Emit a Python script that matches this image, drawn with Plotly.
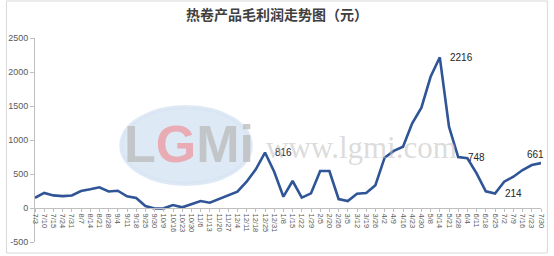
import plotly.graph_objects as go

dates = ["7/3","7/10","7/15","7/24","7/31","8/7","8/14","8/21","8/28","9/4","9/11","9/18",
         "9/25","9/30","10/9","10/16","10/23","10/30","11/6","11/13","11/20","11/27","12/4",
         "12/11","12/18","12/25","12/31","1/8","1/15","1/22","1/29","2/5","2/20","2/26","3/5",
         "3/12","3/19","3/26","4/2","4/9","4/16","4/23","4/30","5/8","5/14","5/21","5/28",
         "6/4","6/11","6/18","6/25","7/2","7/9","7/16","7/23","7/30"]
profit = [150, 222, 185, 175, 184, 250, 275, 305, 242, 254, 172, 147,
          29, -8, -5, 44, 10, 59, 103, 78, 132, 176, 240,
          387, 569, 816, 534, 166, 397, 152, 216, 544, 544, 132, 103,
          210, 220, 335, 740, 840, 901, 1245, 1475, 1930, 2216, 1195, 748,
          732, 510, 245, 214, 387, 460, 559, 632, 661]
ytick_vals = [-500, 0, 500, 1000, 1500, 2000, 2500]
ytick_text = ["-500", "0", "500", "1000", "1500", "2000", "2500"]
labeled = {"12/25": ("816", "right"), "5/14": ("2216", "right"), "5/28": ("748", "right"),
           "6/25": ("214", "right"), "7/30": ("661", "top")}

W, H = 554, 256
ML, MR, MT, MB = 30, 8, 38, 14
PW, PH = W - ML - MR, H - MT - MB

def px(x):
    return (x - ML) / PW

def py(y):
    return (H - MB - y) / PH

fig = go.Figure()
fig.add_trace(go.Scatter(x=dates, y=profit, mode="lines",
                         line=dict(color="#2F5597", width=2.6), hoverinfo="skip"))

annotations = []
for d, (txt, pos) in labeled.items():
    v = profit[dates.index(d)]
    if pos == "right":
        annotations.append(dict(x=d, y=v, xref="x", yref="y", text=txt, showarrow=False,
                                xanchor="left", yanchor="middle", xshift=8,
                                font=dict(family="Liberation Sans", size=10, color="#262626")))
    else:
        annotations.append(dict(x=d, y=v, xref="x", yref="y", text=txt, showarrow=False,
                                xanchor="center", yanchor="bottom", xshift=-6, yshift=1,
                                font=dict(family="Liberation Sans", size=10, color="#262626")))

# watermark
annotations.append(dict(x=px(264), y=py(147), xref="paper", yref="paper", xanchor="left",
                        yanchor="middle", showarrow=False, text="www.lgmi.com",
                        font=dict(family="Liberation Serif", size=31, color="rgba(190,190,190,0.55)")))
annotations.append(dict(x=px(187), y=py(144), xref="paper", yref="paper", xanchor="center",
                        yanchor="middle", showarrow=False,
                        text="<b><span style='color:rgba(185,185,185,0.75)'>L</span>"
                             "<span style='color:rgba(236,150,158,0.75)'>G</span>"
                             "<span style='color:rgba(185,185,185,0.75)'>Mi</span></b>",
                        font=dict(family="Liberation Sans", size=52)))

shapes = [
    dict(type="circle", xref="paper", yref="paper", x0=px(118), x1=px(250), y0=py(184), y1=py(107),
         fillcolor="rgba(195,215,238,0.55)", line=dict(color="rgba(215,228,242,0.8)", width=4),
         layer="below"),
    dict(type="rect", xref="paper", yref="paper", x0=px(1), x1=px(552.5), y0=py(253), y1=py(1),
         line=dict(color="#D9D9D9", width=1), layer="below"),
]

fig.update_layout(
    width=W, height=H,
    margin=dict(l=ML, r=MR, t=MT, b=MB, pad=0),
    paper_bgcolor="white", plot_bgcolor="rgba(0,0,0,0)",
    showlegend=False,
    title=dict(text="<b>热卷产品毛利润走势图（元）</b>", x=0.5, xanchor="center",
               y=1 - 15 / H, yanchor="middle", yref="container",
               font=dict(family="Noto Sans CJK SC", size=14, color="#404040")),
    xaxis=dict(type="category", range=[0, len(dates) - 1], anchor="free", position=py(208),
               tickmode="linear", dtick=1,
               showgrid=False, showline=True, linecolor="#BFBFBF", linewidth=1,
               ticks="outside", ticklen=3, tickcolor="#BFBFBF", tickangle=90,
               tickfont=dict(family="Liberation Sans", size=7.5, color="#595959"), zeroline=False),
    yaxis=dict(range=[-500, 2500], tickvals=ytick_vals, ticktext=ytick_text, showgrid=False,
               zeroline=False, showline=True, linecolor="#BFBFBF", linewidth=1,
               ticks="outside", ticklen=4, tickcolor="#BFBFBF",
               tickfont=dict(family="Liberation Sans", size=9, color="#595959")),
    annotations=annotations, shapes=shapes,
)

fig.write_html("out.html")
